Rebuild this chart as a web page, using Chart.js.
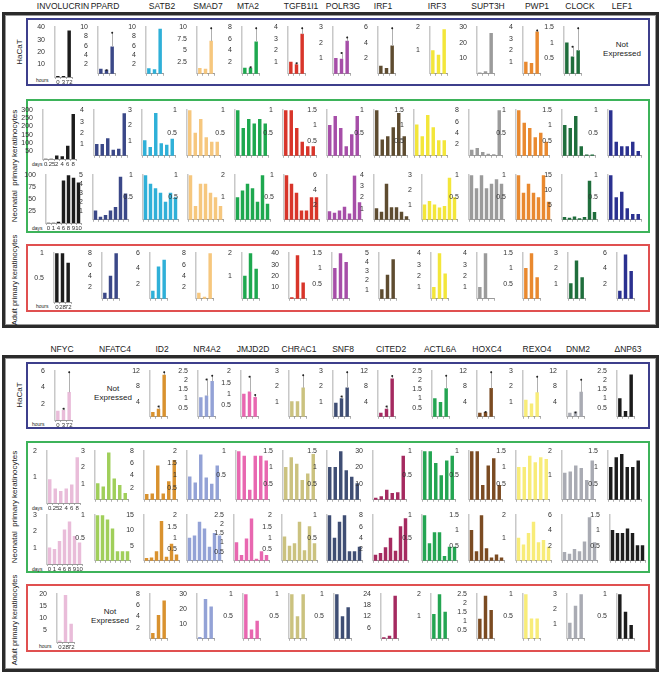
<!DOCTYPE html>
<html><head><meta charset="utf-8">
<script src="https://cdn.jsdelivr.net/npm/chart.js@4"></script>
<style>
body{margin:0;background:#fff;}
#fig{position:relative;width:661px;height:674px;overflow:hidden;font-family:"Liberation Sans",Arial,sans-serif;color:#222;}
#fig canvas{position:absolute;}
.box{position:absolute;box-sizing:border-box;}
.title{position:absolute;font-size:8.5px;transform:translateX(-50%);white-space:nowrap;}
.rowlab{position:absolute;font-size:8px;white-space:pre;transform:translate(-50%,-50%) rotate(-90deg);}
.nx{position:absolute;font-size:8px;text-align:center;transform:translate(-50%,-50%);line-height:1.15;}
.unit{position:absolute;font-size:5px;transform:translateY(-50%);}
</style></head>
<body><div id="fig"></div>
<script>
// ---- data ----
const topGenes = ["INVOLUCRIN","PPARD","SATB2","SMAD7","MTA2","TGFB1I1","POLR3G","IRF1","IRF3","SUPT3H","PWP1","CLOCK","LEF1"];
const botGenes = ["NFYC","NFATC4","ID2","NR4A2","JMJD2D","CHRAC1","SNF8","CITED2","ACTL6A","HOXC4","REXO4","DNM2","\u0394NP63"];

const hacatLabels = ["0","3","72"];
const neo1Labels = ["0",".25","2","4","6","8"];
const neo2Labels = ["0","1","4","6","8","9","10"];
const adultLabels = ["0","28","72"];

// top panel
const topHacat = [[0.6,0.6,37],[1,0.8,5.8],[1.1,0.9,9.6],[1.2,1,7],[1,1,5.5],[1,0.8,3.4],[1,0.95,2.1],[1,0.7,3.6],[1,0.8,1.9],[0.6,1.5,26],[1,0.9,3.6],[1,0.55,0.75],null];
const topHacatErr = [null,[null,1,9],null,[null,null,10],[null,1.3,8],[null,1,4],[null,1.4,2.4],[null,null,6],null,null,[null,null,3.8],[null,0.9,1.5],null];
const topHacatMax = [40,10,10,10,8,4,3,6,2,30,4,1.5,0];
const topHacatStep = [10,2,2,2.5,2,1,1,2,1,10,1,0.5,1];

const topNeo1 = [[0,0,20,15,80,275],[1,1,1.5,0.5,0.6,3.7],[1,0.55,2.8,0.8,0.7,1.1],[1,0.5,0.8,0.4,0.3,0.3],[1,0.6,0.8,0.7,0.8,0.7],[1,1,0.6,0.3,0.2,0.2],[1,1.3,0.9,0.3,0.7,1.3],[1,0.35,0.42,0.62,0.93,0.42],[1.02,0.63,1.33,0.93,0.5,0.5],[1,1.3,0.6,0.3,0.2,8],[1,0.72,0.6,0.4,0.5,0.3],[1,0.9,1.3,0.3,0.03,0.03],[1,0.3,0.2,0.2,0.3,0.1]];
const topNeo1Max = [300,4,3,1,1,1,1.5,1,1.5,8,1,1.5,1];
const topNeo1Step = [50,1,1,0.5,0.5,0.5,0.5,0.5,0.5,2,0.5,0.5,0.5];

const topNeo2 = [[0,0,2,88,100,94,84],[1,0.3,0.5,1,1.4,4.8,2.9],[1,0.8,0.7,0.6,0.4,0.6,0.5],[1,0.3,0.8,0.8,0.6,0.5,0.3],[1,1.3,1.6,1.4,0.8,2,0.7],[1,0.8,0.6,0.2,0.2,0.5,0.5],[1.1,0.9,1.2,1.7,0.8,5.9,2.3],[1,0.7,3.2,1.1,1.1,0.7,0.3],[1,1.25,1,0.8,0.9,2.8,1.5],[1,0.7,1,0.7,0.8,0.9,0.8],[1,0.6,0.8,0.6,0.5,1,0.4],[0.8,0.6,1,0.4,0.8,13,2.5],[1,0.5,0.62,0.25,0.12,0.12]];
const topNeo2Max = [100,5,1,1,2,1,6,4,3,1,1,15,1];
const topNeo2Step = [25,1,0.5,0.5,1,0.5,2,1,1,0.5,0.5,5,0.5];

const topAdult = [[1,1,0.8],[1,4,8],[1,4.2,5.1],[1,0.3,8],[1,2,1.3],[1,38,14],[1,1.5,1.2],[1,2.6,4.3],[1,4,2.2],[1,4,0],[1,1.5,0.7],[1,2.5,1.4],[1,5.8,3.6]];
const topAdultMax = [1,8,6,8,2,40,1.5,5,4,4,1.5,3,6];
const topAdultStep = [0.5,2,2,2,1,10,0.5,1,1,1,0.5,1,2];

// bottom panel
const botHacat = [[1.1,1.2,3.4],null,[1.2,2,11],[1.05,1.15,1.95],[1,1.1,0.85],[1,1,1.9],[0.9,1.2,1.9],[1,2,10],[1,0.8,1.55],[1,1.2,7.5],[1.1,0.85,1.6],[1,1.3,6.5],[1,0.3,2.3]];
const botHacatErr = [[null,1.5,6],null,[null,3,12],[null,2.1,2.3],[null,1.8,1],[null,null,2.8],[null,1.4,3],[null,3,11],[null,null,2.3],[null,1.5,12],[null,null,2.7],[null,1.4,10],null];
const botHacatMax = [6,0,12,2.5,2,3,3,12,2.5,12,3,12,2.5];
const botHacatStep = [2,1,4,0.5,0.5,1,1,4,0.5,4,1,4,0.5];

const botNeo1 = [[0.9,0.55,0.45,0.55,0.7,1.75],[1,0.8,2.9,1.3,0.9,0.4],[0.9,1,5.6,1,3,6.5],[0.95,0.7,1.85,0.9,0.65,1.4],[1,0.9,0.2,0.9,0.9,0.8],[1,1.3,1.1,0.6,0.8,1.4],[1,1,1.5,0.9,0.7,0.5],[1,2,6,4,4.5,27],[1,1,0.75,0.5,0.8,0.9],[1,1,0.3,0.7,0.85,0.3],[1,1,1.35,1.15,1.3,1.25],[1.1,1.15,1.4,1.3,0.8,1.6],[1,1.3,1.4,1,1,1.2]];
const botNeo1Max = [2,3,8,2,1,1.5,1.5,30,1,1,1.5,2,1.5];
const botNeo1Step = [1,1,2,0.5,0.5,0.5,0.5,10,0.5,0.5,0.5,1,0.5];

const botNeo2 = [[1,0.9,1.4,2.1,2.6,1.7,1.3],[1,1,0.9,0.7,0.2,0.2,0.2],[0.8,1,3,13,1.2,5.5,2],[1,1.1,1.7,1.4,0.6,1.2,1.1],[1,0.3,1.2,2.3,0.1,0.5,0.3],[1.05,0.65,0.75,1.7,0.45,1.5,0.75],[1,0.5,0.85,1,0.2,0.2,0.3],[1,1.3,2.3,4,1.7,6,7.4],[1,0.38,0.62,0.62,0.1,0.3,0.3],[1,0.3,1.5,0.4,0.1,0.2,0.1],[1,0.7,1.2,1.7,0.8,0.9,0.6],[1.1,0.9,1.5,1.2,2.5,5.7,2.4],[1,0.9,0.9,1.05,0.9,0.5,0.5]];
const botNeo2Max = [3,1,15,2,2.5,2,1,8,1,1.5,2,6,1.5];
const botNeo2Step = [1,0.5,5,0.5,0.5,0.5,0.5,2,0.5,0.5,1,2,0.5];

const botAdult = [[0.5,19.5,7.5],null,[1,4.2,6.8],[1,26.5,21.5],[1,0.2,0.4],[1,0.5,1],[1,0.5,0.7],[0.6,1.5,23],[1.1,2,1.2],[1.1,2.4,1.6],[1,0.45,0.45],[1.05,2.2,3],[1,0.6,0.3]];
const botAdultMax = [20,0,8,30,1,1,1,24,2,2.5,1,3,1];
const botAdultStep = [5,1,2,10,0.5,0.5,0.5,6,1,0.5,0.5,1,0.5];

// ---- layout / style ----
const topColors = ["#1c1c1c","#3b4888","#2fb0d8","#f6c77e","#1ea84f","#d8352a","#a64ea8","#5e4c30","#f3e63a","#9b9b9b","#e9892f","#1f6e3c","#2b3190"];
const botColors = ["#e9bcd9","#a0cf5a","#d9922f","#93a2d6","#e867b0","#cbc27f","#3f4e74","#a52a60","#24a552","#7b4b22","#f8ec78","#a9abb3","#1c1c1c"];
const topTitleX = [63,105,162,208,248,301,343,383,437,488,537,580,622];
const botTitleX = [62,115,162,207,253,299,343,391,440,487,537,578,628];

const fig = document.getElementById("fig");
const YW = 22, PAD = 6;

function el(cls, css, text) {
  const d = document.createElement("div");
  d.className = cls;
  Object.assign(d.style, css);
  if (text != null) d.innerHTML = text;
  fig.appendChild(d);
  return d;
}

const errPlugin = {
  id: "errbars",
  afterDatasetsDraw(chart) {
    const err = chart.data.datasets[0].err;
    if (!err) return;
    const meta = chart.getDatasetMeta(0);
    const ys = chart.scales.y;
    const ctx = chart.ctx;
    ctx.save();
    err.forEach((e, i) => {
      if (e == null) return;
      const bar = meta.data[i];
      const yTop = ys.getPixelForValue(e);
      ctx.strokeStyle = "#b0b0b0";
      ctx.lineWidth = 1;
      ctx.beginPath();
      ctx.moveTo(Math.round(bar.x) + 0.5, bar.y);
      ctx.lineTo(Math.round(bar.x) + 0.5, yTop);
      ctx.stroke();
      ctx.fillStyle = "#222";
      ctx.beginPath();
      ctx.arc(bar.x, yTop + 1, 1, 0, Math.PI * 2);
      ctx.fill();
    });
    ctx.restore();
  }
};

function drawChart(axisX, top, bottom, vals, max, step, color, labels, showLabels, err) {
  const xh = showLabels ? 9 : 3;
  const cat = vals.length > 6 ? 5 : 5.5;
  const w = Math.round(YW + vals.length * cat + 3);
  const h = (bottom - top) + PAD + xh;
  const cv = document.createElement("canvas");
  cv.width = w; cv.height = h;
  cv.style.left = (axisX - YW) + "px";
  cv.style.top = (top - PAD) + "px";
  fig.appendChild(cv);
  new Chart(cv, {
    type: "bar",
    data: {
      labels: labels.slice(0, vals.length),
      datasets: [{ data: vals, backgroundColor: color, barThickness: 2.8, err: err }]
    },
    options: {
      responsive: false,
      animation: false,
      devicePixelRatio: 1,
      layout: { padding: { top: PAD, right: 3, left: 0, bottom: 0 } },
      plugins: { legend: { display: false }, tooltip: { enabled: false } },
      scales: {
        x: {
          grid: { display: true, drawOnChartArea: false, tickLength: 2, color: "#999", lineWidth: 0.8 },
          border: { color: "#999", width: 1 },
          ticks: { display: showLabels, autoSkip: false, maxRotation: 0, padding: 0, font: { size: 6 }, color: "#333" },
          afterFit: s => { s.height = xh; }
        },
        y: {
          min: 0, max: max,
          grid: { display: false },
          border: { color: "#c8c8c8", width: 1.5 },
          ticks: { stepSize: step, autoSkip: false, padding: 2, font: { size: 7 }, color: "#333", callback: v => (v === 0 ? "" : v) },
          afterFit: s => { s.width = YW; }
        }
      }
    },
    plugins: [errPlugin]
  });
}

function drawRow(data, maxs, steps, errs, colors, axes, top, bottom, labels) {
  data.forEach((vals, i) => {
    if (!vals) return;
    drawChart(axes[i], top, bottom, vals, maxs[i], steps[i], colors[i], labels, i === 0, errs ? errs[i] : null);
  });
}

function panel(y0, y1, boxes, titleY, genes, titleX) {
  el("box", { left: "2px", top: y0 + "px", width: "657px", height: (y1 - y0) + "px", border: "3px solid #2b2b2b", boxShadow: "inset 0 0 0 1px #999" });
  const cols = ["#3d3f8c", "#3db35a", "#e05050"];
  boxes.forEach((b, k) => {
    el("box", { left: "26px", top: b[0] + "px", width: "624px", height: (b[1] - b[0]) + "px", border: "2px solid " + cols[k] });
  });
  genes.forEach((g, i) => el("title", { left: titleX[i] + "px", top: titleY + "px" }, g));
}

// frames and titles
panel(12, 328, [[18, 86], [99, 233], [244, 312]], 1, topGenes, topTitleX);
panel(355, 672, [[362, 429], [441, 573], [584, 652]], 344, botGenes, botTitleX);

// row labels
[[19, 52, "HaCaT", 8], [14, 166, "Neonatal  primary keratinocytes", 8], [14, 280, "Adult primary keratinocytes", 7.5],
 [19, 395, "HaCaT", 8], [14, 507, "Neonatal  primary keratinocytes", 8], [14, 620, "Adult primary keratinocytes", 7.5]]
  .forEach(r => el("rowlab", { left: r[0] + "px", top: r[1] + "px", fontSize: r[3] + "px" }, r[2]));

// not expressed
[[622, 49], [113, 393], [110, 616]].forEach(p => el("nx", { left: p[0] + "px", top: p[1] + "px" }, "Not<br>Expressed"));

// unit words
[[36, 80, "hours"], [32, 164, "days"], [32, 228, "days"], [36, 306, "hours"],
 [32, 424, "hours"], [32, 508, "days"], [32, 569, "days"], [39, 646, "hours"]]
  .forEach(u => el("unit", { left: u[0] + "px", top: u[1] + "px" }, u[2]));

// top panel rows
drawRow(topHacat, topHacatMax, topHacatStep, topHacatErr, topColors,
  [55, 98, 146, 197, 242, 288, 333, 378, 430, 477, 523, 564, 0], 27, 77, hacatLabels);
drawRow(topNeo1, topNeo1Max, topNeo1Step, null, topColors,
  [43, 94, 142, 187, 235, 283, 327, 374, 414, 469, 516, 562, 608], 110, 159, neo1Labels);
drawRow(topNeo2, topNeo2Max, topNeo2Step, null, topColors,
  [46, 93, 143, 188, 235, 284, 327, 374, 422, 469, 516, 562, 608], 175, 223, neo2Labels);
drawRow(topAdult, topAdultMax, topAdultStep, null, topColors,
  [54, 102, 150, 196, 242, 289, 332, 379, 431, 477, 523, 568, 617], 253, 302, adultLabels);

// bottom panel rows
drawRow(botHacat, botHacatMax, botHacatStep, botHacatErr, botColors,
  [55, 0, 150, 198, 241, 289, 333, 378, 432, 477, 523, 567, 617], 371, 420, hacatLabels);
drawRow(botNeo1, botNeo1Max, botNeo1Step, null, botColors,
  [47, 95, 144, 187, 236, 283, 327, 373, 422, 469, 516, 562, 608], 451, 503, neo1Labels);
drawRow(botNeo2, botNeo2Max, botNeo2Step, null, botColors,
  [47, 95, 144, 187, 234, 282, 327, 373, 422, 469, 516, 562, 610], 515, 564, neo2Labels);
drawRow(botAdult, botAdultMax, botAdultStep, null, botColors,
  [57, 0, 150, 197, 243, 289, 334, 381, 431, 477, 523, 567, 617], 594, 642, adultLabels);
</script>
</body></html>
